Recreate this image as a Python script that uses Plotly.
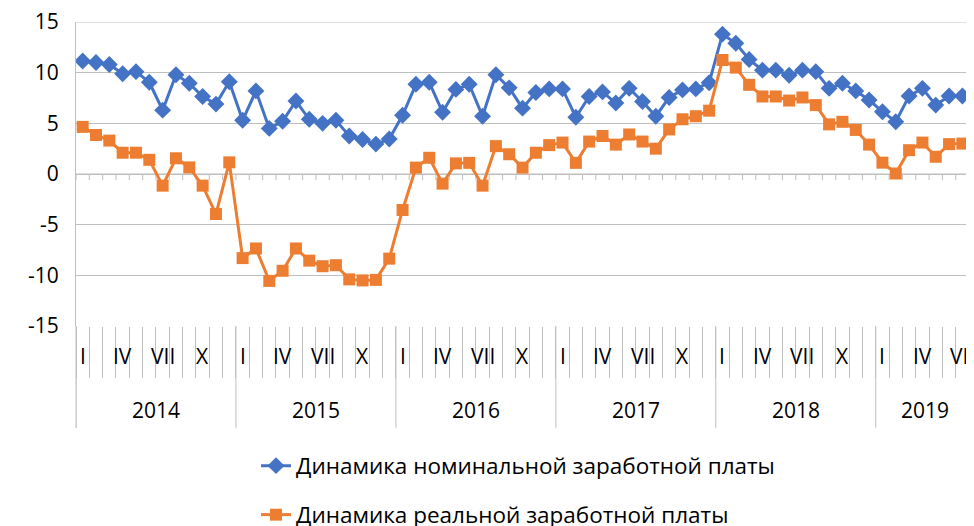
import plotly.graph_objects as go

years = ["2014", "2015", "2016", "2017", "2018", "2019"]
roman = ["I", "II", "III", "IV", "V", "VI", "VII", "VIII", "IX", "X", "XI", "XII"]
shown_months = ["I", "IV", "VII", "X"]
y_ticks = [-15, -10, -5, 0, 5, 10, 15]

nominal = [11.15, 11.0, 10.8, 9.9, 10.1, 9.05, 6.3, 9.8, 8.95, 7.65, 6.9, 9.1,
           5.3, 8.2, 4.5, 5.2, 7.2, 5.4, 5.0, 5.3, 3.75, 3.4, 2.95, 3.45,
           5.8, 8.85, 9.05, 6.1, 8.35, 8.85, 5.7, 9.8, 8.5, 6.5, 8.05, 8.4,
           8.4, 5.6, 7.65, 8.1, 7.0, 8.45, 7.15, 5.7, 7.55, 8.3, 8.4, 9.0,
           13.8, 12.9, 11.3, 10.25, 10.25, 9.75, 10.25, 10.1, 8.45, 8.95, 8.2, 7.3,
           6.15, 5.15, 7.7, 8.45, 6.8, 7.7, 7.7, 7.0]
real = [4.65, 3.85, 3.3, 2.1, 2.1, 1.4, -1.15, 1.55, 0.65, -1.15, -3.95, 1.15,
        -8.3, -7.35, -10.55, -9.55, -7.35, -8.55, -9.1, -9.0, -10.4, -10.5, -10.45, -8.35,
        -3.55, 0.63, 1.6, -0.95, 1.05, 1.1, -1.15, 2.75, 1.95, 0.63, 2.1, 2.85,
        3.1, 1.1, 3.2, 3.75, 2.9, 3.9, 3.2, 2.5, 4.4, 5.4, 5.7, 6.25,
        11.25, 10.5, 8.8, 7.65, 7.65, 7.25, 7.55, 6.8, 4.9, 5.15, 4.35, 2.9,
        1.12, 0.05, 2.35, 3.1, 1.7, 2.95, 3.0, 2.3]

name_nom = "Динамика номинальной заработной платы"
name_real = "Динамика реальной заработной платы"

BLUE = "#4472C4"
ORANGE = "#ED7D31"
GRID = "#BFBFBF"
FONT = "Open Sans"
FS = 21
FS_LEG = 22.5

n = len(nominal)
x = list(range(n))
x_end = 66.87

fig = go.Figure()
fig.add_trace(go.Scatter(x=x, y=nominal, name=name_nom, mode="lines+markers",
                         line=dict(color=BLUE, width=3),
                         marker=dict(symbol="diamond", size=13, color=BLUE),
                         showlegend=True, legend="legend"))
fig.add_trace(go.Scatter(x=x, y=real, name=name_real, mode="lines+markers",
                         line=dict(color=ORANGE, width=3),
                         marker=dict(symbol="square", size=12, color=ORANGE),
                         showlegend=True, legend="legend2"))

shapes = []
for i in range(n + 1):
    shapes.append(dict(type="line", xref="x", yref="y", x0=i - 0.5, x1=i - 0.5,
                       y0=0, y1=-0.6, line=dict(color=GRID, width=1), layer="below"))
shapes.append(dict(type="line", xref="x", yref="y", x0=-0.5, x1=x_end, y0=0, y1=0,
                   line=dict(color=GRID, width=1), layer="below"))
shapes.append(dict(type="line", xref="x", yref="y", x0=-0.5, x1=x_end, y0=15, y1=15,
                   line=dict(color=GRID, width=1), layer="below"))
for k in range(len(years)):
    xb = k * 12 - 0.5
    shapes.append(dict(type="line", xref="x", yref="paper", x0=xb, x1=xb,
                       y0=0, y1=-0.335, line=dict(color=GRID, width=1)))

annotations = []
for k, yr in enumerate(years):
    for m, r in enumerate(roman):
        i = k * 12 + m
        if r in shown_months and i < n:
            annotations.append(dict(x=i, y=-0.099, xref="x", yref="paper", text=r,
                                    showarrow=False, xanchor="center", yanchor="middle",
                                    font=dict(family=FONT, size=FS, color="#000")))
    left = k * 12 - 0.5
    right = min(left + 12, x_end)
    annotations.append(dict(x=(left + right) / 2, y=-0.277, xref="x", yref="paper", text=yr,
                            showarrow=False, xanchor="center", yanchor="middle",
                            font=dict(family=FONT, size=FS, color="#000")))

leg_x = (256 - 76) / 898
fig.update_layout(
    width=966, height=518,
    margin=dict(l=68, r=0, t=14, b=200, autoexpand=False),
    showlegend=True,
    paper_bgcolor="white", plot_bgcolor="white",
    font=dict(family=FONT, size=FS, color="#000"),
    xaxis=dict(range=[-0.5, x_end], tickmode="array",
               tickvals=[i - 0.5 for i in range(n + 1)], ticktext=[""] * (n + 1),
               ticks="outside", ticklen=51, tickcolor=GRID, tickwidth=1,
               showgrid=False, zeroline=False, showline=False),
    yaxis=dict(range=[-15, 15], tickmode="array", tickvals=y_ticks,
               ticktext=[str(v) for v in y_ticks],
               showgrid=True, gridcolor=GRID, gridwidth=1, zeroline=False,
               showline=True, linecolor=GRID, linewidth=1,
               ticks="", ticklabelstandoff=12, ticklabeloverflow="allow",
               tickfont=dict(family=FONT, size=FS, color="#000")),
    legend=dict(x=leg_x, y=(326 - 466) / 304, xanchor="left", yanchor="middle",
                xref="paper", yref="paper", bgcolor="rgba(0,0,0,0)",
                font=dict(family=FONT, size=FS_LEG, color="#000")),
    legend2=dict(x=leg_x, y=(326 - 515) / 304, xanchor="left", yanchor="middle",
                 xref="paper", yref="paper", bgcolor="rgba(0,0,0,0)",
                 font=dict(family=FONT, size=FS_LEG, color="#000")),
    shapes=shapes, annotations=annotations,
)
fig.add_shape(type="line", xref="paper", yref="paper", x0=0, x1=0, y0=0, y1=-0.335,
              line=dict(color=GRID, width=1))

fig.write_html("out.html")
